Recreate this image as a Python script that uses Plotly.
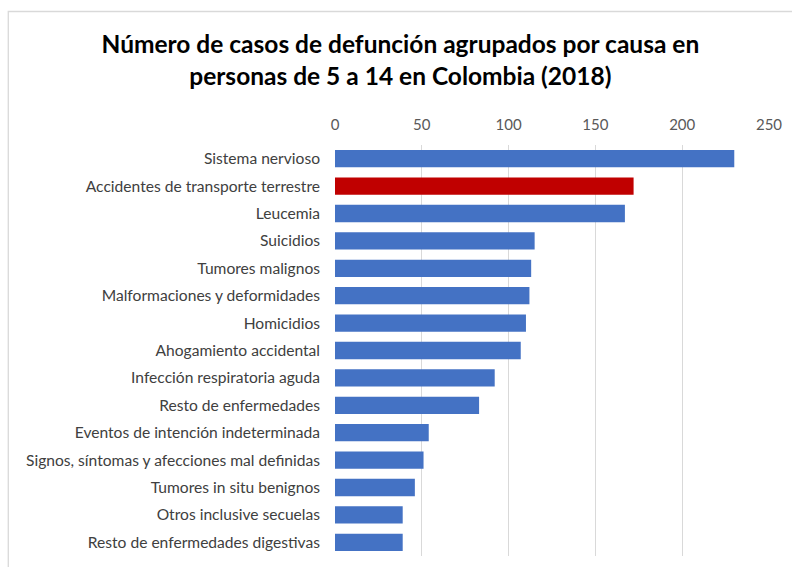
import plotly.graph_objects as go

categories = [
    "Sistema nervioso",
    "Accidentes de transporte terrestre",
    "Leucemia",
    "Suicidios",
    "Tumores malignos",
    "Malformaciones y deformidades",
    "Homicidios",
    "Ahogamiento accidental",
    "Infección respiratoria aguda",
    "Resto de enfermedades",
    "Eventos de intención indeterminada",
    "Signos, síntomas y afecciones mal definidas",
    "Tumores in situ benignos",
    "Otros inclusive secuelas",
    "Resto de enfermedades digestivas",
]
values = [230, 172, 167, 115, 113, 112, 110, 107, 92, 83, 54, 51, 46, 39, 39]
highlight = "Accidentes de transporte terrestre"
tick_values = [0, 50, 100, 150, 200, 250]

colors = ["#C00000" if c == highlight else "#4472C4" for c in categories]

W, H = 792, 567
L, R, T, B = 335, 23.3, 145, 11
pw = W - L - R
ph = H - T - B

fig = go.Figure(go.Bar(
    x=values, y=categories, orientation="h",
    marker=dict(color=colors, line=dict(width=0)),
    width=0.63,
))

fig.update_layout(
    width=W, height=H,
    margin=dict(l=L, r=R, t=T, b=B, pad=0),
    paper_bgcolor="white", plot_bgcolor="white",
    font=dict(family="Lato, Open Sans, sans-serif"),
    showlegend=False,
    title=dict(
        text="<b>Número de casos de defunción agrupados por causa en<br>personas de 5 a 14 en Colombia (2018)</b>",
        x=0.5055, xanchor="center", y=1 - 53 / H, yanchor="middle",
        font=dict(size=24.5, color="#000000", family="Lato, sans-serif"),
    ),
    xaxis=dict(
        side="top", range=[0, 250], tickvals=tick_values,
        showgrid=True, gridcolor="#D9D9D9", gridwidth=1.3,
        zeroline=False, showline=False,
        tickfont=dict(size=15, color="#595959"),
        ticks="", ticklabelstandoff=11,
    ),
    yaxis=dict(
        categoryorder="array", categoryarray=categories,
        autorange="reversed",
        showgrid=False, zeroline=False, showline=False,
        tickfont=dict(size=15.6, color="#404040"),
        ticks="", ticklabelstandoff=14,
    ),
    shapes=[
        dict(type="rect", xref="paper", yref="paper",
             x0=(8.5 - L) / pw, x1=(W + 5 - L) / pw,
             y0=-0.1, y1=(H - B - 11.5) / ph,
             line=dict(color="#D9D9D9", width=1.3), fillcolor="rgba(0,0,0,0)",
             layer="below"),
    ],
)

fig.write_html("out.html")
